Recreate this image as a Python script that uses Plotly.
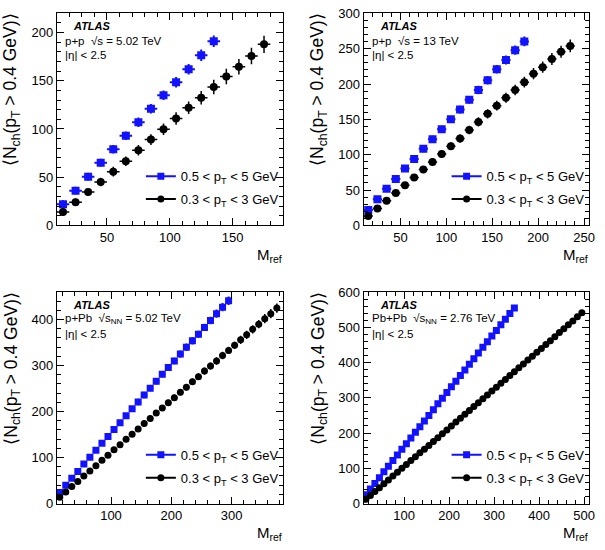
import plotly.graph_objects as go

# ---------------- data ----------------
# p+p 5.02 TeV
pp5_x_blue = [15, 25, 35, 45, 55, 65, 75, 85, 95, 105, 115, 125, 135]
pp5_y_blue = [22, 36, 50.5, 65, 79, 93, 107, 121, 135, 148.5, 162, 176.5, 191]
pp5_ey_blue = [4, 4, 4, 4, 4.5, 4.5, 5, 5, 5, 5.5, 5.5, 6, 6]
pp5_x_black = [15, 25, 35, 45, 55, 65, 75, 85, 95, 105, 115, 125, 135, 145, 155, 165, 175]
pp5_y_black = [13.9, 24, 34.5, 45, 55.7, 66.5, 78, 89, 99.7, 110.8, 122, 132.4, 143.6, 154.4, 164.5, 175.7, 187.8]
pp5_ey_black = [4, 4, 4, 4.5, 5, 5, 5.5, 5.5, 6, 6.5, 6.5, 7, 7.5, 8, 8, 8.5, 9]

# p+p 13 TeV
pp13_x_blue = [15, 25, 35, 45, 55, 65, 75, 85, 95, 105, 115, 125, 135, 145, 155, 165, 175, 185]
pp13_y_blue = [21.7, 37, 51.7, 65.5, 80.3, 94, 108.5, 121.8, 136, 150, 163.8, 177.7, 191.5, 205.4, 221, 234, 247.8, 260.3]
pp13_ey_blue = [4, 4, 4, 4, 4.5, 4.5, 5, 5, 5, 5, 5.5, 5.5, 6, 6, 6, 6.5, 6.5, 7]
pp13_x_black = [15, 25, 35, 45, 55, 65, 75, 85, 95, 105, 115, 125, 135, 145, 155, 165, 175, 185, 195, 205, 215, 225, 235]
pp13_y_black = [13.4, 24, 35, 45.7, 56.8, 67.8, 79, 89.5, 101, 112, 123, 134.8, 146.3, 157.8, 169.4, 180.5, 191.5, 202.6, 214.6, 223.8, 235.4, 245.5, 253.8]
pp13_ey_black = [3.5, 3.5, 4, 4, 4.5, 4.5, 5, 5, 5.5, 5.5, 6, 6, 6.5, 6.5, 7, 7, 7.5, 7.5, 8, 8, 8.5, 8.5, 9]

# p+Pb 5.02 TeV
ppb_x_blue = [15, 25, 35, 45, 55, 65, 75, 85, 95, 105, 115, 125, 135, 145, 155,
              165, 175, 185, 195, 205, 215, 225, 235, 245, 255, 265, 275, 285, 295]
ppb_y_blue = [24, 40, 55, 70, 86, 101, 116, 131, 146, 161, 176, 191, 206, 221, 236,
              251, 266, 281, 296, 310, 325, 340, 354, 368, 383, 398, 413, 427, 441]
ppb_ey_blue = [5, 5, 5, 5, 5, 5, 5, 6, 6, 6, 6, 6, 6, 7, 7,
               7, 7, 7, 7, 7, 8, 8, 8, 8, 8, 8, 9, 9, 9]
ppb_x_black = [15, 25, 35, 45, 55, 65, 75, 85, 95, 105, 115, 125, 135, 145, 155, 165, 175, 185, 195,
               205, 215, 225, 235, 245, 255, 265, 275, 285, 295, 305, 315, 325, 335, 345, 355, 365, 375]
ppb_y_black = [14, 25, 37, 48, 60, 71, 82, 94, 105, 117, 128, 140, 151, 162, 174, 185, 197, 208, 219,
               230, 242, 253, 265, 276, 288, 299, 310, 322, 333, 344, 356, 367, 379, 390, 402, 413, 425]
ppb_ey_black = [4, 4, 4, 4, 4, 5, 5, 5, 5, 5, 5, 5, 6, 6, 6, 6, 6, 6, 7,
                7, 7, 7, 7, 7, 8, 8, 8, 8, 8, 8, 9, 9, 9, 9, 10, 10, 10]

# Pb+Pb 2.76 TeV
pbpb_x_blue = [15, 25, 35, 45, 55, 65, 75, 85, 95, 105, 115, 125, 135, 145, 155, 165, 175,
               185, 195, 205, 215, 225, 235, 245, 255, 265, 275, 285, 295, 305, 315, 325, 335, 345]
pbpb_y_blue = [25, 41, 57, 73, 90, 106, 122, 138, 154, 170, 186, 202, 218, 234, 250, 266, 283,
               299, 315, 331, 347, 363, 379, 395, 411, 427, 443, 459, 475, 491, 507, 523, 539, 555]
pbpb_ey_blue = [3, 3, 3, 3, 3, 3, 3, 3, 3, 3, 4, 4, 4, 4, 4, 4, 4,
                4, 4, 4, 5, 5, 5, 5, 5, 5, 5, 5, 5, 6, 6, 6, 6, 6]
pbpb_x_black = [15, 25, 35, 45, 55, 65, 75, 85, 95, 105, 115, 125, 135, 145, 155, 165, 175, 185, 195, 205,
                215, 225, 235, 245, 255, 265, 275, 285, 295, 305, 315, 325, 335, 345, 355, 365, 375, 385,
                395, 405, 415, 425, 435, 445, 455, 465, 475, 485, 495]
pbpb_y_black = [12, 23, 34, 45, 56, 67, 78, 89, 100, 111, 122, 133, 144, 154, 165, 176, 187, 198, 209, 220,
                231, 242, 253, 264, 275, 286, 297, 308, 319, 330, 341, 352, 363, 374, 385, 396, 407, 418,
                429, 440, 451, 462, 473, 485, 496, 507, 518, 530, 541]
pbpb_ey_black = [2, 2, 2, 2, 2, 2, 2, 2, 2, 3, 3, 3, 3, 3, 3, 3, 3, 3, 3, 3,
                 3, 3, 3, 3, 4, 4, 4, 4, 4, 4, 4, 4, 4, 4, 4, 4, 4, 5,
                 5, 5, 5, 5, 5, 5, 5, 5, 5, 5, 5]

bin_half_width = 5

legend_blue = "0.5 &lt; p<sub>T</sub> &lt; 5 GeV"
legend_black = "0.3 &lt; p<sub>T</sub> &lt; 3 GeV"
system_labels = [
    "p+p  √s = 5.02 TeV",
    "p+p  √s = 13 TeV",
    "p+Pb  √s<sub>NN</sub> = 5.02 TeV",
    "Pb+Pb  √s<sub>NN</sub> = 2.76 TeV",
]
eta_label = "|η| &lt; 2.5"
ytitle = "⟨N<sub>ch</sub>(p<sub>T</sub> &gt; 0.4 GeV)⟩"
xtitle = "M<sub>ref</sub>"

# ---------------- layout helpers ----------------
W, H = 605, 550
FONT = "Liberation Sans, Arial, Helvetica, sans-serif"
BLUE = "#1212ff"
BLACK = "#000000"

panels = [
    dict(x=(pp5_x_blue, pp5_y_blue, pp5_ey_blue, pp5_x_black, pp5_y_black, pp5_ey_black),
         px=(57.3, 285.7), py=(6.5, 224.5), xr=[10, 190], yr=[0, 220], xd=50, xm=10, yd=50, ym=10, msize=8),
    dict(x=(pp13_x_blue, pp13_y_blue, pp13_ey_blue, pp13_x_black, pp13_y_black, pp13_ey_black),
         px=(367.3, 594.5), py=(6.5, 224.5), xr=[10, 255], yr=[0, 300], xd=50, xm=10, yd=50, ym=10, msize=8),
    dict(x=(ppb_x_blue, ppb_y_blue, ppb_ey_blue, ppb_x_black, ppb_y_black, ppb_ey_black),
         px=(57.3, 285.7), py=(293, 510.5), xr=[10, 385], yr=[0, 460], xd=100, xm=20, yd=100, ym=20, msize=7),
    dict(x=(pbpb_x_blue, pbpb_y_blue, pbpb_ey_blue, pbpb_x_black, pbpb_y_black, pbpb_ey_black),
         px=(367.3, 594.5), py=(293, 510.5), xr=[10, 510], yr=[0, 600], xd=100, xm=20, yd=100, ym=20, msize=7),
]

fig = go.Figure()
layout = dict(width=W, height=H, margin=dict(l=0, r=0, t=0, b=0),
              paper_bgcolor="white", plot_bgcolor="white",
              font=dict(family=FONT, size=13, color="black"), annotations=[])

for i, p in enumerate(panels):
    k = "" if i == 0 else str(i + 1)
    xa, ya = "x" + k, "y" + k
    bx, by, bey, kx, ky, key = p["x"]
    lg = "legend" + k
    fig.add_trace(go.Scatter(
        x=bx, y=by, mode="markers", xaxis=xa, yaxis=ya, showlegend=False,
        marker=dict(symbol="square", size=p["msize"], color=BLUE),
        error_x=dict(type="constant", value=bin_half_width, color=BLUE, thickness=2, width=0),
        error_y=dict(type="data", array=bey, color=BLUE, thickness=2, width=0)))
    fig.add_trace(go.Scatter(
        x=kx, y=ky, mode="markers", xaxis=xa, yaxis=ya, showlegend=False,
        marker=dict(symbol="circle", size=p["msize"], color=BLACK),
        error_x=dict(type="constant", value=bin_half_width, color=BLACK, thickness=1.5, width=0),
        error_y=dict(type="data", array=key, color=BLACK, thickness=1.5, width=0)))
    fig.add_trace(go.Scatter(
        x=[None], y=[None], mode="lines+markers", xaxis=xa, yaxis=ya, name=legend_blue,
        legend=lg, legendgroup="b" + k,
        line=dict(color=BLUE, width=2), marker=dict(symbol="square", size=7, color=BLUE)))
    fig.add_trace(go.Scatter(
        x=[None], y=[None], mode="lines+markers", xaxis=xa, yaxis=ya, name=legend_black,
        legend=lg, legendgroup="k" + k,
        line=dict(color=BLACK, width=2), marker=dict(symbol="circle", size=7, color=BLACK)))

    x0, x1 = p["px"]
    y0, y1 = p["py"]
    axcommon = dict(showline=True, linecolor="black", linewidth=1, mirror="allticks",
                    ticks="inside", ticklen=7, tickwidth=1, tickcolor="black",
                    showgrid=False, zeroline=False, tickfont=dict(size=13, family=FONT))
    layout["xaxis" + k] = dict(axcommon, domain=[x0 / W, x1 / W], range=p["xr"], anchor=ya,
                               tick0=0, dtick=p["xd"],
                               minor=dict(dtick=p["xm"], tick0=0, ticks="inside", ticklen=4, tickcolor="black"))
    layout["yaxis" + k] = dict(axcommon, domain=[1 - y1 / H, 1 - y0 / H], range=p["yr"], anchor=xa,
                               tick0=0, dtick=p["yd"],
                               minor=dict(dtick=p["ym"], tick0=0, ticks="inside", ticklen=4, tickcolor="black"))
    layout[lg] = dict(x=(x1 + 1) / W, y=1 - (y0 + 152) / H, xanchor="right", yanchor="top",
                      bgcolor="rgba(0,0,0,0)", font=dict(size=13, family=FONT),
                      tracegroupgap=3, itemwidth=30, traceorder="grouped")

    ann = layout["annotations"]
    ann.append(dict(xref="paper", yref="paper", x=(x0 + 14) / W, y=1 - (y0 + 13.5) / H,
                    text="<b><i>ATLAS</i></b>", showarrow=False, xanchor="left", yanchor="middle",
                    font=dict(size=11, family=FONT)))
    ann.append(dict(xref="paper", yref="paper", x=(x0 + 6) / W, y=1 - (y0 + 28) / H,
                    text=system_labels[i], showarrow=False, xanchor="left", yanchor="middle",
                    font=dict(size=11.5, family=FONT)))
    ann.append(dict(xref="paper", yref="paper", x=(x0 + 6) / W, y=1 - (y0 + 43) / H,
                    text=eta_label, showarrow=False, xanchor="left", yanchor="middle",
                    font=dict(size=11.5, family=FONT)))
    ann.append(dict(xref="paper", yref="paper", x=(x0 - 45) / W, y=1 - (y0 - 2) / H,
                    text=ytitle, textangle=-90, showarrow=False, xanchor="center", yanchor="top",
                    font=dict(size=17.5, family=FONT)))
    ann.append(dict(xref="paper", yref="paper", x=(x1 + 1) / W, y=1 - (y1 + 19) / H,
                    text=xtitle, showarrow=False, xanchor="right", yanchor="top",
                    font=dict(size=15, family=FONT)))

fig.update_layout(**layout)
fig.write_html("out.html", config={"displayModeBar": False},
               post_script="document.body.style.margin='0';document.body.style.overflow='hidden';")
